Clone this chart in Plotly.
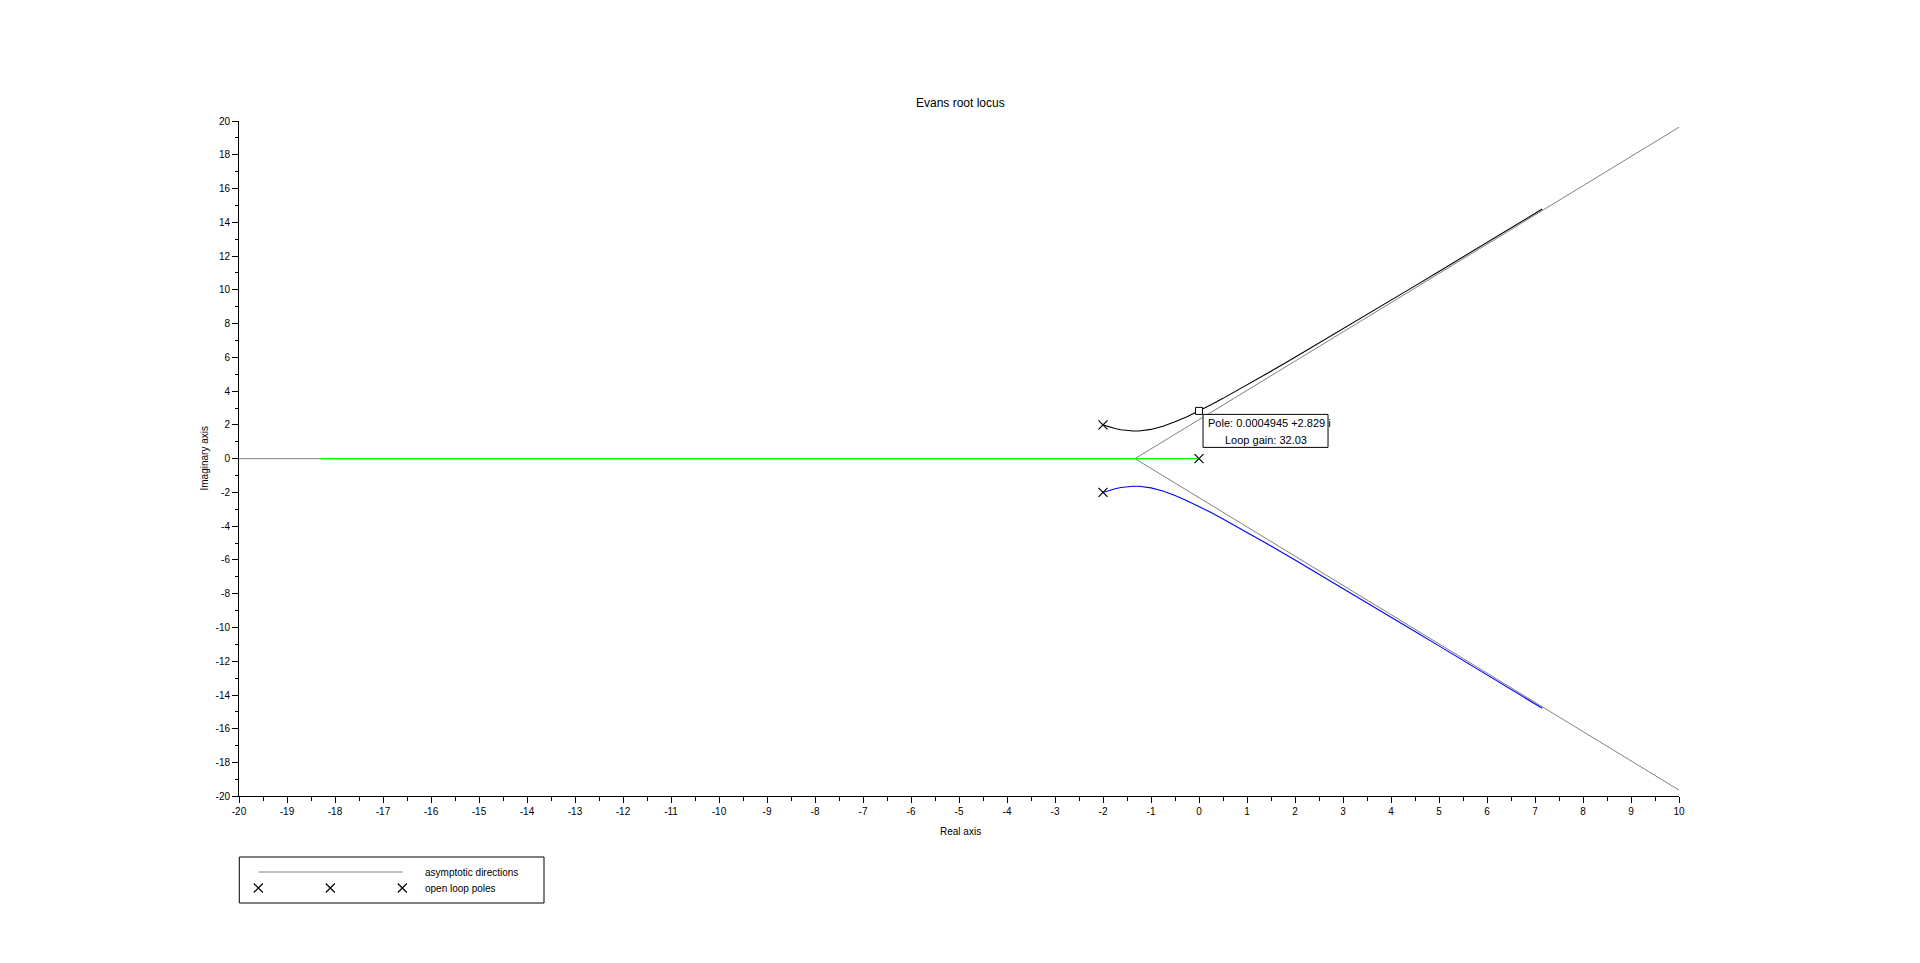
import plotly.graph_objects as go

# ---------------- data ----------------
poles_re = [0.0, -2.0, -2.0]
poles_im = [0.0, 2.0, -2.0]

# asymptotes: centre at -4/3, directions 60, 180, 300 degrees
asym_x = [10.0, -1.3333, 10.0, None, -1.3333, -20.0]
asym_y = [19.63, 0.0, -19.63, None, 0.0, 0.0]

# real-axis branch (green)
real_branch_x = [0.0, -0.5, -1.0, -2.0, -4.0, -8.0, -12.0, -16.0, -18.3]
real_branch_y = [0.0, 0.0, 0.0, 0.0, 0.0, 0.0, 0.0, 0.0, 0.0]

# upper complex branch (black)
upper_re = [-2.0, -1.875, -1.75, -1.625, -1.5, -1.375, -1.25, -1.125, -1.0,
            -0.75, -0.5, -0.25, 0.0, 0.25, 0.5, 1.0, 1.5, 2.0, 2.5, 3.0,
            3.5, 4.0, 4.5, 5.0, 5.5, 6.0, 6.5, 7.0, 7.15]
upper_im = [2.0, 1.883, 1.785, 1.709, 1.658, 1.635, 1.639, 1.672, 1.732,
            1.920, 2.179, 2.488, 2.828, 3.192, 3.571, 4.359, 5.172, 6.0, 6.837, 7.681,
            8.529, 9.381, 10.235, 11.091, 11.948, 12.806, 13.666, 14.526, 14.784]

# lower complex branch (blue)
lower_re = [-2.0, -1.875, -1.75, -1.625, -1.5, -1.375, -1.25, -1.125, -1.0,
            -0.75, -0.5, -0.25, 0.0, 0.25, 0.5, 1.0, 1.5, 2.0, 2.5, 3.0,
            3.5, 4.0, 4.5, 5.0, 5.5, 6.0, 6.5, 7.0, 7.15]
lower_im = [-2.0, -1.883, -1.785, -1.709, -1.658, -1.635, -1.639, -1.672, -1.732,
            -1.920, -2.179, -2.488, -2.828, -3.192, -3.571, -4.359, -5.172, -6.0, -6.837, -7.681,
            -8.529, -9.381, -10.235, -11.091, -11.948, -12.806, -13.666, -14.526, -14.784]

tip_re = [0.0004945]
tip_im = [2.829]
tip_gain = 32.03

x_ticks = list(range(-20, 11))
y_ticks = list(range(-20, 21, 2))

# ---------------- layout helpers ----------------
W, H = 1920, 963
ML, MR, MT, MB = 239, 241, 121, 20
PW = W - ML - MR
PH = H - MT - MB


def px(xp):
    return (xp - ML) / PW


def py(yp):
    return (H - MB - yp) / PH


FONT = "Liberation Sans, Arial, Helvetica, sans-serif"
GRAY = "#808080"

fig = go.Figure()

fig.add_trace(go.Scatter(x=asym_x, y=asym_y, mode="lines",
                         line=dict(color=GRAY, width=1), showlegend=False,
                         hoverinfo="skip"))
fig.add_trace(go.Scatter(x=real_branch_x, y=real_branch_y, mode="lines",
                         line=dict(color="#00ff00", width=1.1), showlegend=False))
fig.add_trace(go.Scatter(x=upper_re, y=upper_im, mode="lines",
                         line=dict(color="black", width=1.1), showlegend=False))
fig.add_trace(go.Scatter(x=lower_re, y=lower_im, mode="lines",
                         line=dict(color="#0000ff", width=1.1), showlegend=False))
fig.add_trace(go.Scatter(x=poles_re, y=poles_im, mode="markers",
                         marker=dict(symbol="x-thin", size=9,
                                     line=dict(color="black", width=1.2)),
                         showlegend=False))
fig.add_trace(go.Scatter(x=tip_re, y=tip_im, mode="markers",
                         marker=dict(symbol="square", size=7, color="white",
                                     line=dict(color="black", width=1)),
                         showlegend=False))

main_bottom = py(796.3)

fig.update_layout(
    width=W, height=H,
    margin=dict(l=ML, r=MR, t=MT, b=MB),
    paper_bgcolor="white", plot_bgcolor="white",
    font=dict(family=FONT, size=10, color="black"),
    showlegend=False,
    xaxis=dict(range=[-20, 10], domain=[0, 1], tickvals=x_ticks,
               ticktext=[str(v) for v in x_ticks],
               showline=True, linecolor="black", linewidth=1,
               ticks="outside", ticklen=6, tickcolor="black", tickwidth=1,
               minor=dict(dtick=0.5, tick0=0, ticks="outside", ticklen=4,
                          tickcolor="black", tickwidth=1, showgrid=False),
               showgrid=False, zeroline=False, anchor="y",
               tickfont=dict(size=10, family=FONT)),
    yaxis=dict(range=[-20, 20], domain=[main_bottom, 1], tickvals=y_ticks,
               ticktext=[str(v) for v in y_ticks],
               showline=True, linecolor="black", linewidth=1,
               ticks="outside", ticklen=6, tickcolor="black", tickwidth=1,
               minor=dict(dtick=1, tick0=0, ticks="outside", ticklen=3,
                          tickcolor="black", tickwidth=1, showgrid=False),
               showgrid=False, zeroline=False, anchor="x",
               tickfont=dict(size=10, family=FONT)),
    # legend overlay axes (pixel-like coordinates inside the legend box)
    xaxis2=dict(domain=[px(239.3), px(544)], range=[0, 304.7], visible=False,
                anchor="y2", fixedrange=True),
    yaxis2=dict(domain=[py(903), py(857)], range=[46, 0], visible=False,
                anchor="x2", fixedrange=True),
)

# legend samples
fig.add_trace(go.Scatter(x=[19, 163], y=[15, 15], xaxis="x2", yaxis="y2",
                         mode="lines", line=dict(color=GRAY, width=1),
                         showlegend=False, hoverinfo="skip"))
fig.add_trace(go.Scatter(x=[19, 91, 163], y=[31, 31, 31], xaxis="x2", yaxis="y2",
                         mode="markers",
                         marker=dict(symbol="x-thin", size=9,
                                     line=dict(color="black", width=1.2)),
                         showlegend=False, hoverinfo="skip"))

shapes = [
    dict(type="rect", xref="paper", yref="paper",
         x0=px(239.3), x1=px(544), y0=py(903), y1=py(857),
         line=dict(color="black", width=1), fillcolor="rgba(0,0,0,0)"),
    # datatip box
    dict(type="rect", xref="x", yref="y", xsizemode="pixel", ysizemode="pixel",
         xanchor=tip_re[0], yanchor=tip_im[0], x0=4, x1=129, y0=-3.5, y1=-36.5,
         line=dict(color="black", width=1), fillcolor="white", layer="above"),
]
fig.update_layout(shapes=shapes)

annotations = [
    dict(text="Evans root locus", xref="paper", yref="paper",
         x=px(960), y=py(103), xanchor="center", yanchor="middle",
         showarrow=False, font=dict(size=12, family=FONT)),
    dict(text="Real axis", xref="paper", yref="paper",
         x=px(960), y=py(831), xanchor="center", yanchor="middle",
         showarrow=False, font=dict(size=10, family=FONT)),
    dict(text="Imaginary axis", xref="paper", yref="paper",
         x=px(204), y=py(458.5), xanchor="center", yanchor="middle",
         textangle=-90, showarrow=False, font=dict(size=10, family=FONT)),
    dict(text="asymptotic directions", xref="paper", yref="paper",
         x=px(423), y=py(872), xanchor="left", yanchor="middle",
         showarrow=False, font=dict(size=10, family=FONT)),
    dict(text="open loop poles", xref="paper", yref="paper",
         x=px(423), y=py(888), xanchor="left", yanchor="middle",
         showarrow=False, font=dict(size=10, family=FONT)),
    dict(text="Pole: %s +%s i" % (tip_re[0], tip_im[0]), xref="x", yref="y",
         x=tip_re[0], y=tip_im[0], xanchor="left", yanchor="middle",
         xshift=7, yshift=-12.5, showarrow=False,
         font=dict(size=11, family=FONT)),
    dict(text="Loop gain: %s" % tip_gain, xref="x", yref="y",
         x=tip_re[0], y=tip_im[0], xanchor="center", yanchor="middle",
         xshift=66.5, yshift=-29.5, showarrow=False,
         font=dict(size=11, family=FONT)),
]
fig.update_layout(annotations=annotations)

fig.write_html("out.html")
